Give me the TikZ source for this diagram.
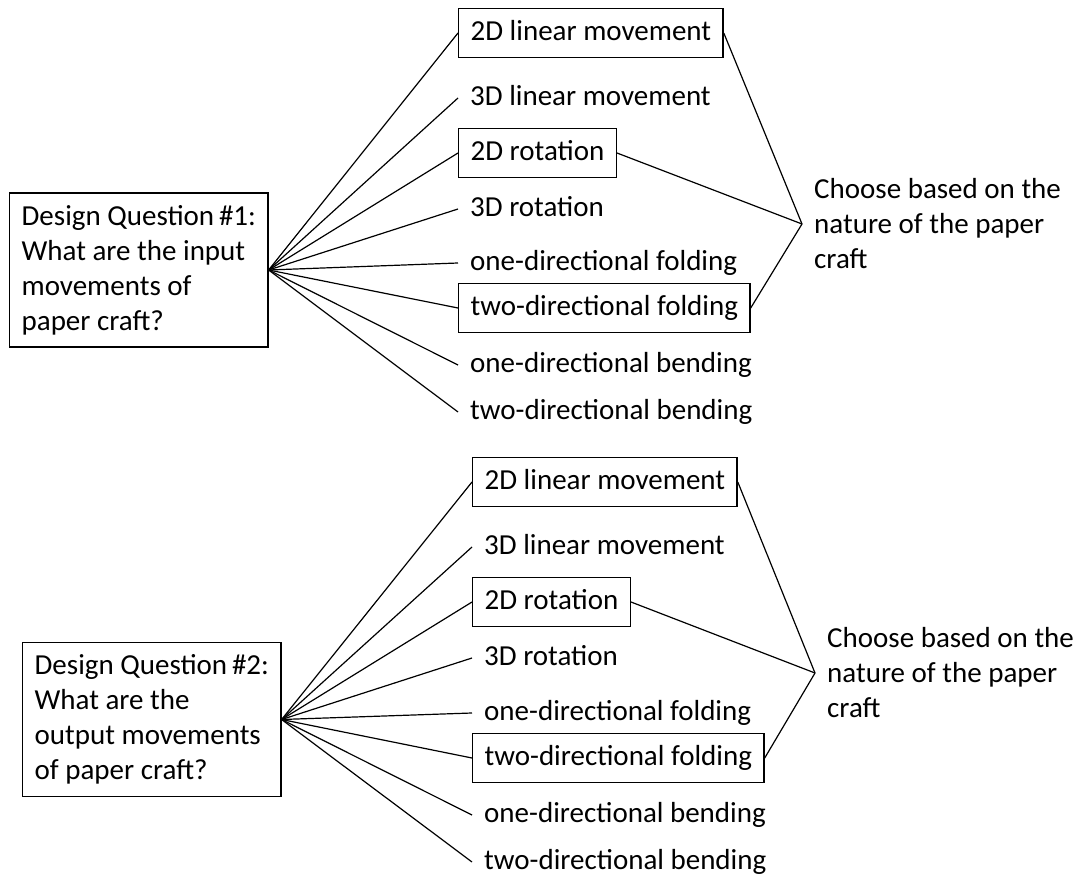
\documentclass[tikz,border=0pt]{standalone}
\usepackage{fontspec}
\setmainfont{Carlito}
\begin{document}
\begin{tikzpicture}[x=1pt,y=-1pt,
  every node/.style={font=\fontsize{29}{35}\selectfont, inner xsep=12pt, inner ysep=10pt},
  question/.style={draw, line width=1.3pt, align=left, anchor=west, inner ysep=12pt},
  item/.style={anchor=west, text height=21.75pt, text depth=7.25pt},
  boxed/.style={draw, line width=1.3pt},
  note/.style={align=left, anchor=west},
  link/.style={line width=1.2pt}]
\useasboundingbox (0,0) rectangle (1085,874);

% ---- input movements ----
\node[question] (q1) at (9,270) {Design Question\,\#1:\\What are the input\\movements of\\paper craft?};
\node[item,boxed] (a1) at (458,33)  {2D linear movement};
\node[item]       (b1) at (458,98)  {3D linear movement};
\node[item,boxed] (c1) at (458,153) {2D rotation};
\node[item]       (d1) at (458,209) {3D rotation};
\node[item]       (e1) at (458,263) {one-directional folding};
\node[item,boxed] (f1) at (458,308) {two-directional folding};
\node[item]       (g1) at (458,365) {one-directional bending};
\node[item]       (h1) at (458,412) {two-directional bending};
\node[note] (n1) at (802,224) {Choose based on the\\nature of the paper\\craft};
\foreach \n in {a,b,c,d,e,f,g,h} \draw[link] (q1.east) -- (\n1.west);
\foreach \n in {a,c,f} \draw[link] (\n1.east) -- (n1.west);

% ---- output movements ----
\node[question] (q2) at (22,719.5) {Design Question\,\#2:\\What are the\\output movements\\of paper craft?};
\node[item,boxed] (a2) at (472,482) {2D linear movement};
\node[item]       (b2) at (472,547) {3D linear movement};
\node[item,boxed] (c2) at (472,602) {2D rotation};
\node[item]       (d2) at (472,658) {3D rotation};
\node[item]       (e2) at (472,713) {one-directional folding};
\node[item,boxed] (f2) at (472,758) {two-directional folding};
\node[item]       (g2) at (472,815) {one-directional bending};
\node[item]       (h2) at (472,862) {two-directional bending};
\node[note] (n2) at (815,673) {Choose based on the\\nature of the paper\\craft};
\foreach \n in {a,b,c,d,e,f,g,h} \draw[link] (q2.east) -- (\n2.west);
\foreach \n in {a,c,f} \draw[link] (\n2.east) -- (n2.west);
\end{tikzpicture}
\end{document}
